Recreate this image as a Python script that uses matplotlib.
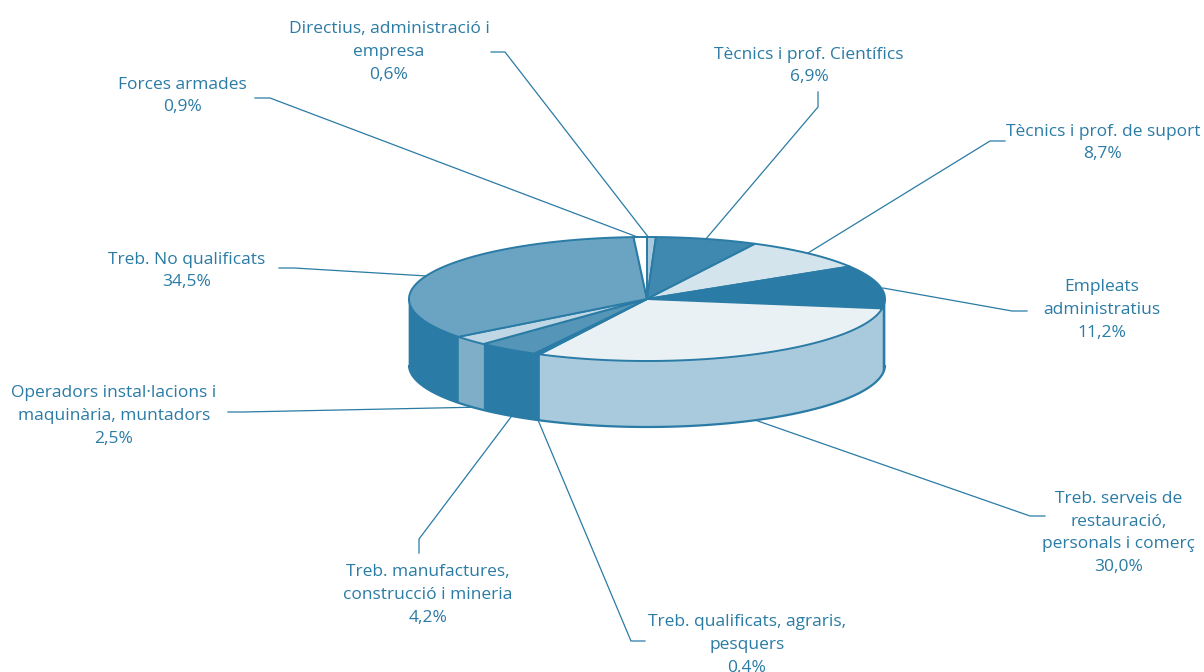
import numpy as np
import matplotlib
matplotlib.use('Agg')
from matplotlib import pyplot as plt

# clockwise from the top of the pie
labels = ['Directius, administració i\nempresa\n0,6%',
          'Tècnics i prof. Científics\n6,9%',
          'Tècnics i prof. de suport\n8,7%',
          'Empleats\nadministratius\n11,2%',
          'Treb. serveis de\nrestauració,\npersonals i comerç\n30,0%',
          'Treb. qualificats, agraris,\npesquers\n0,4%',
          'Treb. manufactures,\nconstrucció i mineria\n4,2%',
          'Operadors instal·lacions i\nmaquinària, muntadors\n2,5%',
          'Treb. No qualificats\n34,5%',
          'Forces armades\n0,9%']
values = [0.6, 6.9, 8.7, 11.2, 30.0, 0.4, 4.2, 2.5, 34.5, 0.9]

top_colors = ['#A9CADC', '#3F88AF', '#D4E4ED', '#2A7BA5', '#E9F1F5',
              '#2A7BA5', '#5595B8', '#BFD7E4', '#6AA4C2', '#FFFFFF']
side_colors = ['#A9CADC', '#3F88AF', '#D4E4ED', '#2A7BA5', '#A9CADC',
               '#2A7BA5', '#2A7BA5', '#7FAFC8', '#2A7BA5', '#FFFFFF']

label_pos = [(389, 52), (809, 66), (1103, 143), (1102, 310), (1119, 533),
             (747, 645), (428, 595), (114, 416), (187, 271), (182, 96)]
leaders = [[(491, 52), (505, 52), (649, 238)],
           [(818, 92), (818, 107), (705, 240)],
           [(1005, 141), (990, 141), (808, 253)],
           [(1027, 311), (1012, 311), (883, 288)],
           [(1045, 516), (1030, 516), (755, 420)],
           [(645, 641), (631, 641), (538, 420)],
           [(419, 553), (419, 539), (511, 417)],
           [(228, 412), (243, 412), (484, 407)],
           [(279, 268), (294, 268), (427, 276)],
           [(255, 98), (270, 98), (640, 238)]]

line_color = '#2A7BA5'
text_color = '#2A7BA5'
cx, cy = 647, 299
rx, ry = 238, 62
depth = 66

plt.rcParams['font.family'] = ['Open Sans', 'DejaVu Sans']

fig = plt.figure(figsize=(12.04, 6.72), dpi=100)
ax = fig.add_axes([0, 0, 1, 1])
ax.set_xlim(0, 1204)
ax.set_ylim(672, 0)
ax.axis('off')


def rim(a, b):
    t = np.radians(np.linspace(a, b, 80))
    return cx + rx * np.sin(t), cy - ry * np.cos(t)


for pts in leaders:
    ax.plot([p[0] for p in pts], [p[1] for p in pts], color=line_color, lw=0.9, zorder=1)

angles = np.concatenate([[0], np.cumsum(values)]) / sum(values) * 360

# side wall, only the front half shows
for i in range(len(values)):
    a, b = max(angles[i], 90), min(angles[i + 1], 270)
    if a >= b:
        continue
    x, y = rim(a, b)
    ax.fill(np.r_[x, x[::-1]], np.r_[y, y[::-1] + depth], facecolor=side_colors[i],
            edgecolor=side_colors[i], lw=0.5, zorder=2)
x, y = rim(90, 270)
ax.plot(x, y + depth, color=line_color, lw=1.6, solid_capstyle='butt', zorder=3)

# top face
for i in range(len(values)):
    x, y = rim(angles[i], angles[i + 1])
    ax.fill(np.r_[cx, x], np.r_[cy, y], facecolor=top_colors[i], edgecolor=line_color,
            lw=1.4, joinstyle='round', zorder=4)

for s, (tx, ty) in zip(labels, label_pos):
    ax.text(tx, ty, s, color=text_color, fontsize=12.5, ha='center', va='center',
            multialignment='center', linespacing=1.58, zorder=5)

fig.savefig('out.png', dpi=100)
